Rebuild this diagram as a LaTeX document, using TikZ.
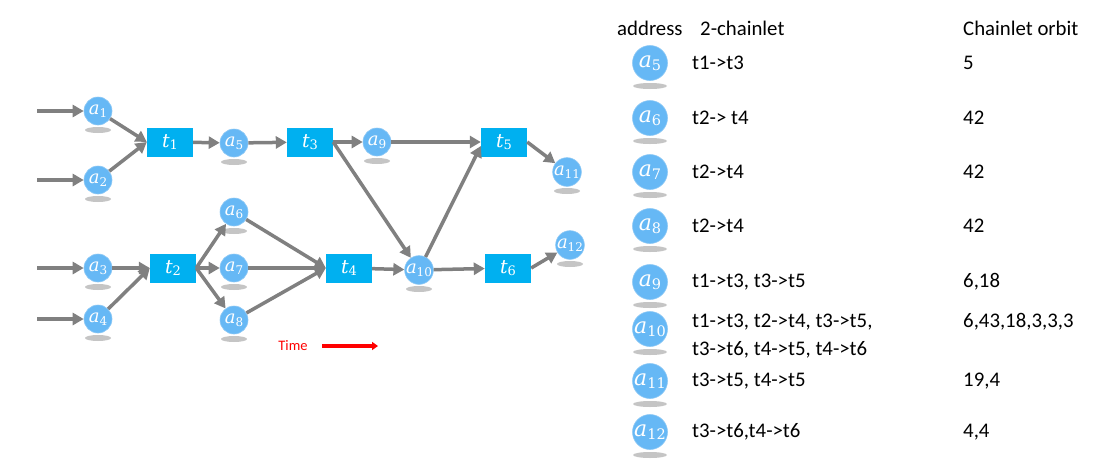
\documentclass[tikz,border=0pt]{standalone}
\usepackage{fontspec}
\setmainfont{Carlito}
\newfontfamily\labfont{DejaVu Serif}
\usetikzlibrary{arrows.meta}
\definecolor{nodeblue}{RGB}{102,184,245}
\definecolor{nodeedge}{RGB}{140,200,245}
\definecolor{boxblue}{RGB}{0,176,240}
\definecolor{edgegray}{RGB}{128,128,128}
\def\subsz{12}
\newcommand\lab[2]{{\labfont\itshape #1}\raisebox{-0.3ex}{\labfont\fontsize{\subsz}{\subsz}\selectfont #2}}
\tikzset{
 addr/.style={circle, fill=nodeblue, draw=nodeedge, line width=0.6pt, minimum size=28pt, inner sep=0pt, text=white, font=\fontsize{18}{18}\selectfont\def\subsz{12}},
 bigaddr/.style={addr, minimum size=35pt, font=\fontsize{22}{22}\selectfont\def\subsz{14.5}},
 tx/.style={rectangle, fill=boxblue, minimum width=46pt, minimum height=29pt, inner sep=0pt, text=white, font=\fontsize{19}{19}\selectfont\def\subsz{13}},
 flow/.style={draw=edgegray, line width=3.5pt, -{Triangle[length=11pt,width=12pt]}},
 shadowel/.style={fill=gray!75, opacity=0.6},
 cell/.style={anchor=west, font=\fontsize{20.8}{24}\selectfont, inner sep=0pt},
}
\newcommand\myshad[3]{\fill[shadowel] (#1) ++(0,#2) ellipse (#3pt and 3pt);}
\begin{document}
\begin{tikzpicture}[x=1pt,y=-1pt]
\useasboundingbox (0,0) rectangle (1114,472);
\fill[white] (0,0) rectangle (1114,472);
% shadows
\foreach \p in {{98,111},{98,180},{234,143},{377,142},{567,172},{234,212},{98,268},{98,319},{234,268},{234,320},{419,270},{570,245}}
  \myshad{\p}{19}{13};
\foreach \p in {{650,63},{650,118},{650,172},{650,226},{650,282},{650,329},{650,381},{650,432}}
  \myshad{\p}{23}{17};
% graph nodes
\node[addr] (a1) at (98,111) {\lab{a}{1}};
\node[addr] (a2) at (98,180) {\lab{a}{2}};
\node[addr] (a3) at (98,268) {\lab{a}{3}};
\node[addr] (a4) at (98,319) {\lab{a}{4}};
\node[tx] (t1) at (170,142) {\lab{t}{1}};
\node[tx] (t2) at (173,268) {\lab{t}{2}};
\node[addr] (a5) at (234,143) {\lab{a}{5}};
\node[addr] (a6) at (234,212) {\lab{a}{6}};
\node[addr] (a7) at (234,268) {\lab{a}{7}};
\node[addr] (a8) at (234,320) {\lab{a}{8}};
\node[tx] (t3) at (310,142) {\lab{t}{3}};
\node[tx] (t4) at (349,268) {\lab{t}{4}};
\node[addr] (a9) at (377,142) {\lab{a}{9}};
\node[addr] (a10) at (419,270) {\lab{a}{10}};
\node[tx] (t5) at (504,142) {\lab{t}{5}};
\node[tx] (t6) at (508,268) {\lab{t}{6}};
\node[addr] (a11) at (567,172) {\lab{a}{11}};
\node[addr] (a12) at (570,245) {\lab{a}{12}};
\coordinate (i1) at (37,111);
\coordinate (i2) at (37,180);
\coordinate (i3) at (37,268);
\coordinate (i4) at (37,319);
% edges
\draw[flow] (i1) -- (a1);
\draw[flow] (i2) -- (a2);
\draw[flow] (i3) -- (a3);
\draw[flow] (i4) -- (a4);
\draw[flow] (a1) -- (t1.west);
\draw[flow] (a2) -- (t1.west);
\draw[flow] (t1) -- (a5);
\draw[flow] (a5) -- (t3);
\draw[flow] (t3) -- (a9);
\draw[flow] (t3.east) -- (a10);
\draw[flow] (a9) -- (t5.west);
\draw[flow] (t5.east) -- (a11);
\draw[flow] (a3) -- (t2.west);
\draw[flow] (a4) -- (t2.west);
\draw[flow] (t2.east) -- (a6);
\draw[flow] (t2.east) -- (a7);
\draw[flow] (t2.east) -- (a8);
\draw[flow] (a6) -- (t4.west);
\draw[flow] (a7) -- (t4.west);
\draw[flow] (a8) -- (t4.west);
\draw[flow] (t4) -- (a10);
\draw[flow] (a10) -- ([yshift=-4pt]t5.west);
\draw[flow] (a10) -- (t6);
\draw[flow] (t6.east) -- (a12);
% time
\node[text=red, font=\fontsize{14.5}{14.5}\selectfont] (time) at (293,346) {Time};
\coordinate (ts) at (322,346);
\coordinate (te) at (378,346);
\draw[red, line width=4pt, -{Triangle[length=6pt,width=8pt]}] (ts) -- (te);
% table
\node[cell] (h1) at (617,28) {address};
\node[cell] (h2) at (700,28) {2-chainlet};
\node[cell] (h3) at (963,28) {Chainlet orbit};
\node[bigaddr] (r5) at (650,63) {\lab{a}{5}};
\node[bigaddr] (r6) at (650,118) {\lab{a}{6}};
\node[bigaddr] (r7) at (650,172) {\lab{a}{7}};
\node[bigaddr] (r8) at (650,226) {\lab{a}{8}};
\node[bigaddr] (r9) at (650,282) {\lab{a}{9}};
\node[bigaddr] (r10) at (650,329) {\lab{a}{10}};
\node[bigaddr] (r11) at (650,381) {\lab{a}{11}};
\node[bigaddr] (r12) at (650,432) {\lab{a}{12}};
\node[cell] (c5) at (692,63) {t1->t3};
\node[cell] (c6) at (692,118) {t2-> t4};
\node[cell] (c7) at (692,172) {t2->t4};
\node[cell] (c8) at (692,226) {t2->t4};
\node[cell] (c9) at (692,282) {t1->t3, t3->t5};
\node[cell] (c10a) at (692,322) {t1->t3, t2->t4, t3->t5,};
\node[cell] (c10b) at (692,350) {t3->t6, t4->t5, t4->t6};
\node[cell] (c11) at (692,381) {t3->t5, t4->t5};
\node[cell] (c12) at (692,432) {t3->t6,t4->t6};
\node[cell] (o5) at (963,63) {5};
\node[cell] (o6) at (963,118) {42};
\node[cell] (o7) at (963,172) {42};
\node[cell] (o8) at (963,226) {42};
\node[cell] (o9) at (963,282) {6,18};
\node[cell] (o10) at (963,322) {6,43,18,3,3,3};
\node[cell] (o11) at (963,381) {19,4};
\node[cell] (o12) at (963,432) {4,4};
\end{tikzpicture}
\end{document}
